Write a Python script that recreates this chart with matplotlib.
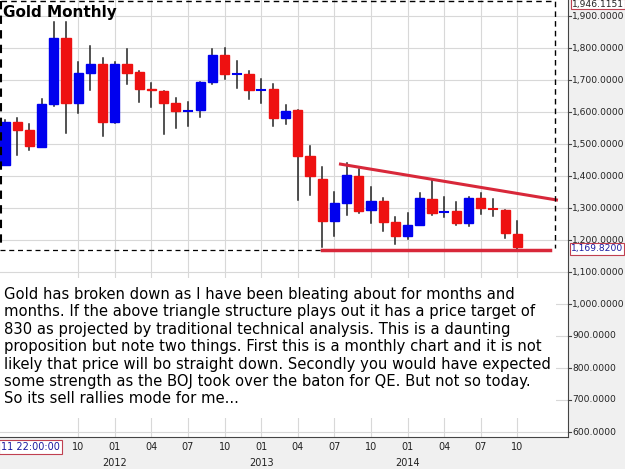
import matplotlib
matplotlib.use("Agg")
import matplotlib.pyplot as plt
from matplotlib.patches import Rectangle

opens  = [1434,1568,1544,1492,1625,1830,1629,1723,1749,1569,1749,1725,1672,1667,1627,1603,1606,1695,1778,1717,1719,1668,1671,1580,1606,1462,1391,1259,1315,1400,1294,1322,1257,1213,1247,1329,1285,1292,1254,1332,1298,1294,1219]
closes = [1570,1544,1494,1625,1830,1627,1723,1749,1569,1749,1723,1673,1668,1627,1603,1606,1695,1778,1719,1720,1669,1670,1580,1604,1462,1401,1259,1315,1403,1289,1322,1257,1213,1247,1332,1283,1288,1254,1332,1299,1295,1221,1179]
highs  = [1575,1580,1562,1640,1882,1882,1757,1807,1768,1757,1796,1729,1690,1667,1643,1632,1695,1796,1801,1759,1729,1703,1687,1622,1606,1494,1427,1351,1440,1421,1365,1330,1273,1283,1348,1387,1333,1320,1333,1348,1327,1294,1259]
lows   = [1434,1466,1481,1492,1619,1535,1596,1669,1525,1567,1687,1631,1615,1531,1549,1556,1585,1687,1702,1676,1640,1629,1556,1562,1325,1341,1179,1212,1278,1285,1254,1229,1187,1203,1247,1278,1271,1247,1244,1281,1276,1205,1167]
month_labels = ["10","01","04","07","10","01","04","07","10","01","04","07","10"]
month_idx = [6,9,12,15,18,21,24,27,30,33,36,39,42]
year_labels = ["2012","2013","2014"]
year_idx = [9,21,33]
yticks = [600,700,800,900,1000,1100,1200,1300,1400,1500,1600,1700,1800,1900]
last_price = 1169.82
trend_upper = [(27.5,1437),(45.2,1325)]
trend_lower = [(26,1169.82),(44.7,1169.82)]

W,H = 625,469
fig = plt.figure(figsize=(6.25,4.69), dpi=100)
fig.patch.set_facecolor("#f0f0f0")
ax = fig.add_axes([0, 1-437/H, 568/W, 437/H])
ax.set_facecolor("white")
x0 = -5/12.2
ax.set_xlim(x0, x0+568/12.2)
ax.set_ylim(584, 1950)
for v in yticks:
    ax.axhline(v, color="#d8d8d8", lw=0.8, zorder=0)
for i in month_idx:
    ax.axvline(i, color="#d8d8d8", lw=0.8, zorder=0)
ax.set_xticks([]); ax.set_yticks([])
for s in ax.spines.values():
    s.set_visible(False)
ax.spines["right"].set_visible(True); ax.spines["right"].set_color("#444")
ax.spines["bottom"].set_visible(True); ax.spines["bottom"].set_color("#444")

for i,(o,c,h,l) in enumerate(zip(opens,closes,highs,lows)):
    col = "#0000ee" if c >= o else "#ee1111"
    ax.plot([i,i],[l,h], color="#222", lw=1.1, zorder=2)
    lo, hi = min(o,c), max(o,c)
    if hi-lo < 4:
        ax.plot([i-0.35,i+0.35],[(o+c)/2]*2, color=col, lw=1.5, zorder=3)
    else:
        ax.add_patch(Rectangle((i-0.38,lo),0.76,hi-lo,color=col,zorder=3))

ax.plot([p[0] for p in trend_upper],[p[1] for p in trend_upper], color="#d8283a", lw=2.2, zorder=4)
ax.plot([p[0] for p in trend_lower],[p[1] for p in trend_lower], color="#d8283a", lw=2.5, zorder=4)
ax.plot([x0,26],[last_price]*2, color="black", lw=0.9, ls=(0,(4,3)), zorder=4)

def px2data(x,y):
    return x0 + x/12.2, 1950 - y/0.32
xa,ya = px2data(1,1); xb,yb = px2data(555,248)
ax.plot([xa,xb,xb],[ya,ya,yb], color="black", lw=1, ls=(0,(4,3)), zorder=5, clip_on=False)
ax.plot([xa,xa],[ya,yb], color="black", lw=1.5, ls=(0,(4,3)), zorder=5, clip_on=False)

fig.text(3/W, 1-13/H, "Gold Monthly", fontsize=11, fontweight="bold", va="center", ha="left")

for v in yticks:
    y = 16 + (1900-v)*0.32
    fig.text(572/W, 1-y/H, f"{v:,.4f}", fontsize=6.6, va="center", ha="left", color="#222")
    ax.plot([ax.get_xlim()[1], ax.get_xlim()[1]+0.25],[v,v], color="#444", lw=0.8, clip_on=False)
fig.text(572/W, 1-4/H, "1,946.1151", fontsize=6.6, va="center", ha="left", color="#222",
         bbox=dict(boxstyle="square,pad=0.1", fc="white", ec="#c04050", lw=0.8))
fig.text(571/W, 1-249/H, "1,169.8200", fontsize=6.6, va="center", ha="left", color="#1a1aa0",
         bbox=dict(boxstyle="square,pad=0.12", fc="white", ec="#c04050", lw=0.8))

for lab,i in zip(month_labels, month_idx):
    x = 5 + 12.2*i
    fig.text(x/W, 1-447/H, lab, fontsize=7, ha="center", va="center", color="#222")
for lab,i in zip(year_labels, year_idx):
    x = 5 + 12.2*i
    fig.text(x/W, 1-463/H, lab, fontsize=7, ha="center", va="center", color="#222")
fig.text(1/W, 1-447/H, "11 22:00:00", fontsize=7, ha="left", va="center", color="#1a1aa0",
         bbox=dict(boxstyle="square,pad=0.2", fc="white", ec="#c04050", lw=0.8))

fig.patches.append(Rectangle((0, 1-418/H), 556/W, 140/H, transform=fig.transFigure,
                             fc="white", ec="none", zorder=6))
txt = ("Gold has broken down as I have been bleating about for months and\n"
       "months. If the above triangle structure plays out it has a price target of\n"
       "830 as projected by traditional technical analysis. This is a daunting\n"
       "proposition but note two things. First this is a monthly chart and it is not\n"
       "likely that price will bo straight down. Secondly you would have expected\n"
       "some strength as the BOJ took over the baton for QE. But not so today.\n"
       "So its sell rallies mode for me...")
fig.text(4/W, 1-287/H, txt, fontsize=10.6, ha="left", va="top", linespacing=1.2,
         family="DejaVu Sans", zorder=7)

fig.savefig("out.png", dpi=100)
